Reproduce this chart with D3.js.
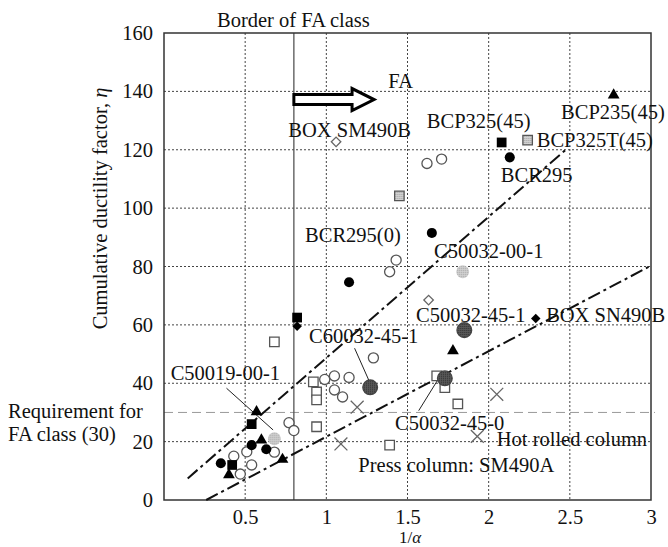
<!DOCTYPE html>
<html>
<head>
<meta charset="utf-8">
<script src="https://cdn.jsdelivr.net/npm/d3@7"></script>
<style>
  body { margin: 0; background: #fff; }
  text { font-family: "Liberation Serif", "Times New Roman", serif; font-size: 20.5px; fill: #111; }
</style>
</head>
<body>
<div id="chart"></div>
<script>
// Axis ticks
const xTicks = [0.5, 1, 1.5, 2, 2.5, 3];
const yTicks = [0, 20, 40, 60, 80, 100, 120, 140, 160];
const gridX = [0.5, 1, 1.5, 2, 2.5];
const gridY = [20, 40, 60, 80, 100, 120, 140];

// Points [1/alpha, eta] by marker type
const openCircles = [[0.43, 15], [0.51, 16.5], [0.47, 8.9], [0.54, 12], [0.68, 16.4], [0.77, 26.5], [0.80, 23.8],
  [0.99, 41.3], [1.05, 42.5], [1.14, 42], [1.05, 37.7], [1.10, 35.3], [1.29, 48.7], [1.39, 78.2], [1.43, 82.2],
  [1.62, 115.3], [1.71, 116.8]];
const filledCircles = [[0.35, 12.6], [0.54, 18.8], [0.63, 17.4], [1.14, 74.6], [1.65, 91.5], [2.13, 117.4]];
const filledSquares = [[0.42, 12], [0.54, 26], [0.82, 62.5], [2.08, 122.5]];
const openSquares = [[0.68, 54.2], [0.92, 40.5], [0.94, 37], [0.94, 34.3], [0.94, 25.1], [1.39, 18.8],
  [1.68, 42.5], [1.73, 38.5], [1.81, 32.9]];
const filledTriangles = [[0.40, 8.6], [0.57, 30.2], [0.60, 20.5], [0.73, 13.9], [1.78, 51.1], [2.77, 138.7]];
const openDiamonds = [[1.06, 122.7], [1.63, 68.5]];
const filledDiamonds = [[0.82, 59.5], [2.29, 62.2]];
const crosses = [[1.09, 19.2], [1.19, 31.8], [1.93, 21.8], [2.05, 36.2]];
const darkStipple = [[1.27, 38.6], [1.73, 41.7], [1.85, 58.2]];
const lightStipple = [[0.68, 21], [1.84, 78.2]];
const stippleSquares = [[1.45, 104.2], [2.24, 123.3]];

// Dash-dot bounds
const upperTrend = [[0.146, 7.4], [2.475, 120]];
const lowerTrend = [[0.26, 0], [2.99, 80]];

// FA border and requirement
const faBorder = 0.8;
const faRequirement = 30;
const faArrow = [0.8, 1.294, 137.2];

// Annotations [text, x, eta]
const labels = [
  ["BOX SM490B", 0.766, 124.4],
  ["BCP325(45)", 1.619, 127.6],
  ["BCP325T(45)", 2.296, 120.8],
  ["BCP235(45)", 2.446, 130.4],
  ["BCR295", 2.075, 109],
  ["BCR295(0)", 0.869, 88.5],
  ["C50032-00-1", 1.664, 82.8],
  ["C50032-45-1", 1.553, 61.1],
  ["BOX SN490B", 2.354, 61.1],
  ["C60032-45-1", 0.893, 53.7],
  ["C50019-00-1", 0.041, 41.1],
  ["C50032-45-0", 1.423, 24],
  ["Hot rolled column", 2.05, 18.5],
  ["Press column: SM490A", 1.197, 9.7],
  ["FA", 1.382, 141.3]
];
// Leader lines [x1, eta1, x2, eta2]
const leaders = [
  [0.385, 38.3, 0.672, 24],
  [1.174, 52, 1.266, 40.5],
  [1.569, 30.6, 1.696, 42]
];

const W = 668, H = 547;
const svg = d3.select("#chart").append("svg")
  .attr("width", W)
  .attr("height", H);

const x = d3.scaleLinear().domain([0, 3]).range([164, 651]);
const y = d3.scaleLinear().domain([0, 160]).range([500, 33]);

// stipple patterns
const defs = svg.append("defs");
function stipple(id, bg, dot) {
  const p = defs.append("pattern").attr("id", id)
    .attr("width", 2).attr("height", 2).attr("patternUnits", "userSpaceOnUse");
  p.append("rect").attr("width", 2).attr("height", 2).attr("fill", bg);
  p.append("rect").attr("width", 1).attr("height", 1).attr("fill", dot);
}
stipple("light", "#d4d4d4", "#999");
stipple("dark", "#5a5a5a", "#2a2a2a");

// Grid
svg.append("g").selectAll("line").data(gridX).join("line")
  .attr("x1", d => x(d)).attr("x2", d => x(d))
  .attr("y1", y(160)).attr("y2", y(0))
  .attr("stroke", "#444").attr("stroke-width", 1).attr("stroke-dasharray", "2,2");
svg.append("g").selectAll("line").data(gridY).join("line")
  .attr("x1", x(0)).attr("x2", x(3))
  .attr("y1", d => y(d)).attr("y2", d => y(d))
  .attr("stroke", "#444").attr("stroke-width", 1).attr("stroke-dasharray", "2,2");

// Requirement line
svg.append("line")
  .attr("x1", x(0)).attr("x2", x(3) + 4)
  .attr("y1", y(faRequirement)).attr("y2", y(faRequirement))
  .attr("stroke", "#999").attr("stroke-width", 1).attr("stroke-dasharray", "9,5");

// FA border
svg.append("line")
  .attr("x1", x(faBorder)).attr("x2", x(faBorder))
  .attr("y1", y(160)).attr("y2", y(0))
  .attr("stroke", "#555").attr("stroke-width", 1.3);

// Frame
svg.append("rect")
  .attr("x", x(0)).attr("y", y(160))
  .attr("width", x(3) - x(0)).attr("height", y(0) - y(160))
  .attr("fill", "none").attr("stroke", "#333").attr("stroke-width", 1.5);

// Axes
const xAxis = svg.append("g")
  .attr("transform", `translate(0,${y(0)})`)
  .call(d3.axisBottom(x).tickValues(xTicks).tickSize(0).tickPadding(9).tickFormat(d3.format("")));
xAxis.select(".domain").remove();
xAxis.selectAll("text").style("font-size", "20.5px").attr("fill", "#111");

const yAxis = svg.append("g")
  .attr("transform", `translate(${x(0)},0)`)
  .call(d3.axisLeft(y).tickValues(yTicks).tickSize(0).tickPadding(11));
yAxis.select(".domain").remove();
yAxis.selectAll("text").style("font-size", "20.5px").attr("fill", "#111");

// Dash-dot lines
const line = d3.line().x(d => x(d[0])).y(d => y(d[1]));
[upperTrend, lowerTrend].forEach(t => {
  svg.append("path").attr("d", line(t))
    .attr("fill", "none").attr("stroke", "#111").attr("stroke-width", 2)
    .attr("stroke-dasharray", "13,4,3,4");
});

// Leader lines
svg.append("g").selectAll("line").data(leaders).join("line")
  .attr("x1", d => x(d[0])).attr("y1", d => y(d[1]))
  .attr("x2", d => x(d[2])).attr("y2", d => y(d[3]))
  .attr("stroke", "#222").attr("stroke-width", 1);

// Markers
function marker(data, type, size, fill, stroke, rot) {
  svg.append("g").selectAll("path").data(data).join("path")
    .attr("transform", d => `translate(${x(d[0])},${y(d[1])})` + (rot ? ` rotate(${rot})` : ""))
    .attr("d", d3.symbol().type(type).size(size))
    .attr("fill", fill)
    .attr("stroke", stroke)
    .attr("stroke-width", 1.3);
}
const timesSym = d3.symbolTimes || {
  draw(ctx, size) {
    const r = Math.sqrt(size) / 2;
    ctx.moveTo(-r, -r); ctx.lineTo(r, r); ctx.moveTo(r, -r); ctx.lineTo(-r, r);
  }
};
marker(openCircles, d3.symbolCircle, 80, "#fff", "#555");
marker(openSquares, d3.symbolSquare, 90, "#fff", "#555");
marker(openDiamonds, d3.symbolSquare, 45, "#fff", "#666", 45);
marker(crosses, timesSym, 110, "none", "#666");
marker(stippleSquares, d3.symbolSquare, 90, "url(#light)", "#555");
marker(lightStipple, d3.symbolCircle, 130, "url(#light)", "none");
marker(darkStipple, d3.symbolCircle, 170, "url(#dark)", "#444");
marker(filledCircles, d3.symbolCircle, 80, "#000", "none");
marker(filledSquares, d3.symbolSquare, 95, "#000", "none");
marker(filledTriangles, d3.symbolTriangle, 60, "#000", "none");
marker(filledDiamonds, d3.symbolSquare, 45, "#000", "none", 45);

// FA arrow (outlined block arrow)
const ax0 = x(faArrow[0]), ax1 = x(faArrow[1]), ay = y(faArrow[2]);
const headLen = 22, bodyH = 5, headH = 11;
svg.append("path")
  .attr("d", `M${ax0},${ay - bodyH} L${ax1 - headLen},${ay - bodyH} L${ax1 - headLen},${ay - headH} L${ax1},${ay} ` +
    `L${ax1 - headLen},${ay + headH} L${ax1 - headLen},${ay + bodyH} L${ax0},${ay + bodyH} Z`)
  .attr("fill", "#fff").attr("stroke", "#000").attr("stroke-width", 3);

// Labels
svg.append("g").selectAll("text").data(labels).join("text")
  .attr("x", d => x(d[1])).attr("y", d => y(d[2]))
  .text(d => d[0]);

// Titles
svg.append("text").attr("x", 217).attr("y", 27).text("Border of FA class");
svg.append("text").attr("x", 8).attr("y", 418).text("Requirement for");
svg.append("text").attr("x", 8).attr("y", 441).text("FA class (30)");

svg.append("text")
  .attr("transform", "translate(107,208.5) rotate(-90)")
  .attr("text-anchor", "middle")
  .text("Cumulative ductility factor, ")
  .append("tspan").style("font-style", "italic").text("η");

const xt = svg.append("text").attr("x", 410).attr("y", 543).attr("text-anchor", "middle")
  .style("font-size", "17px");
xt.append("tspan").text("1/");
xt.append("tspan").style("font-style", "italic").text("α");
</script>
</body>
</html>
